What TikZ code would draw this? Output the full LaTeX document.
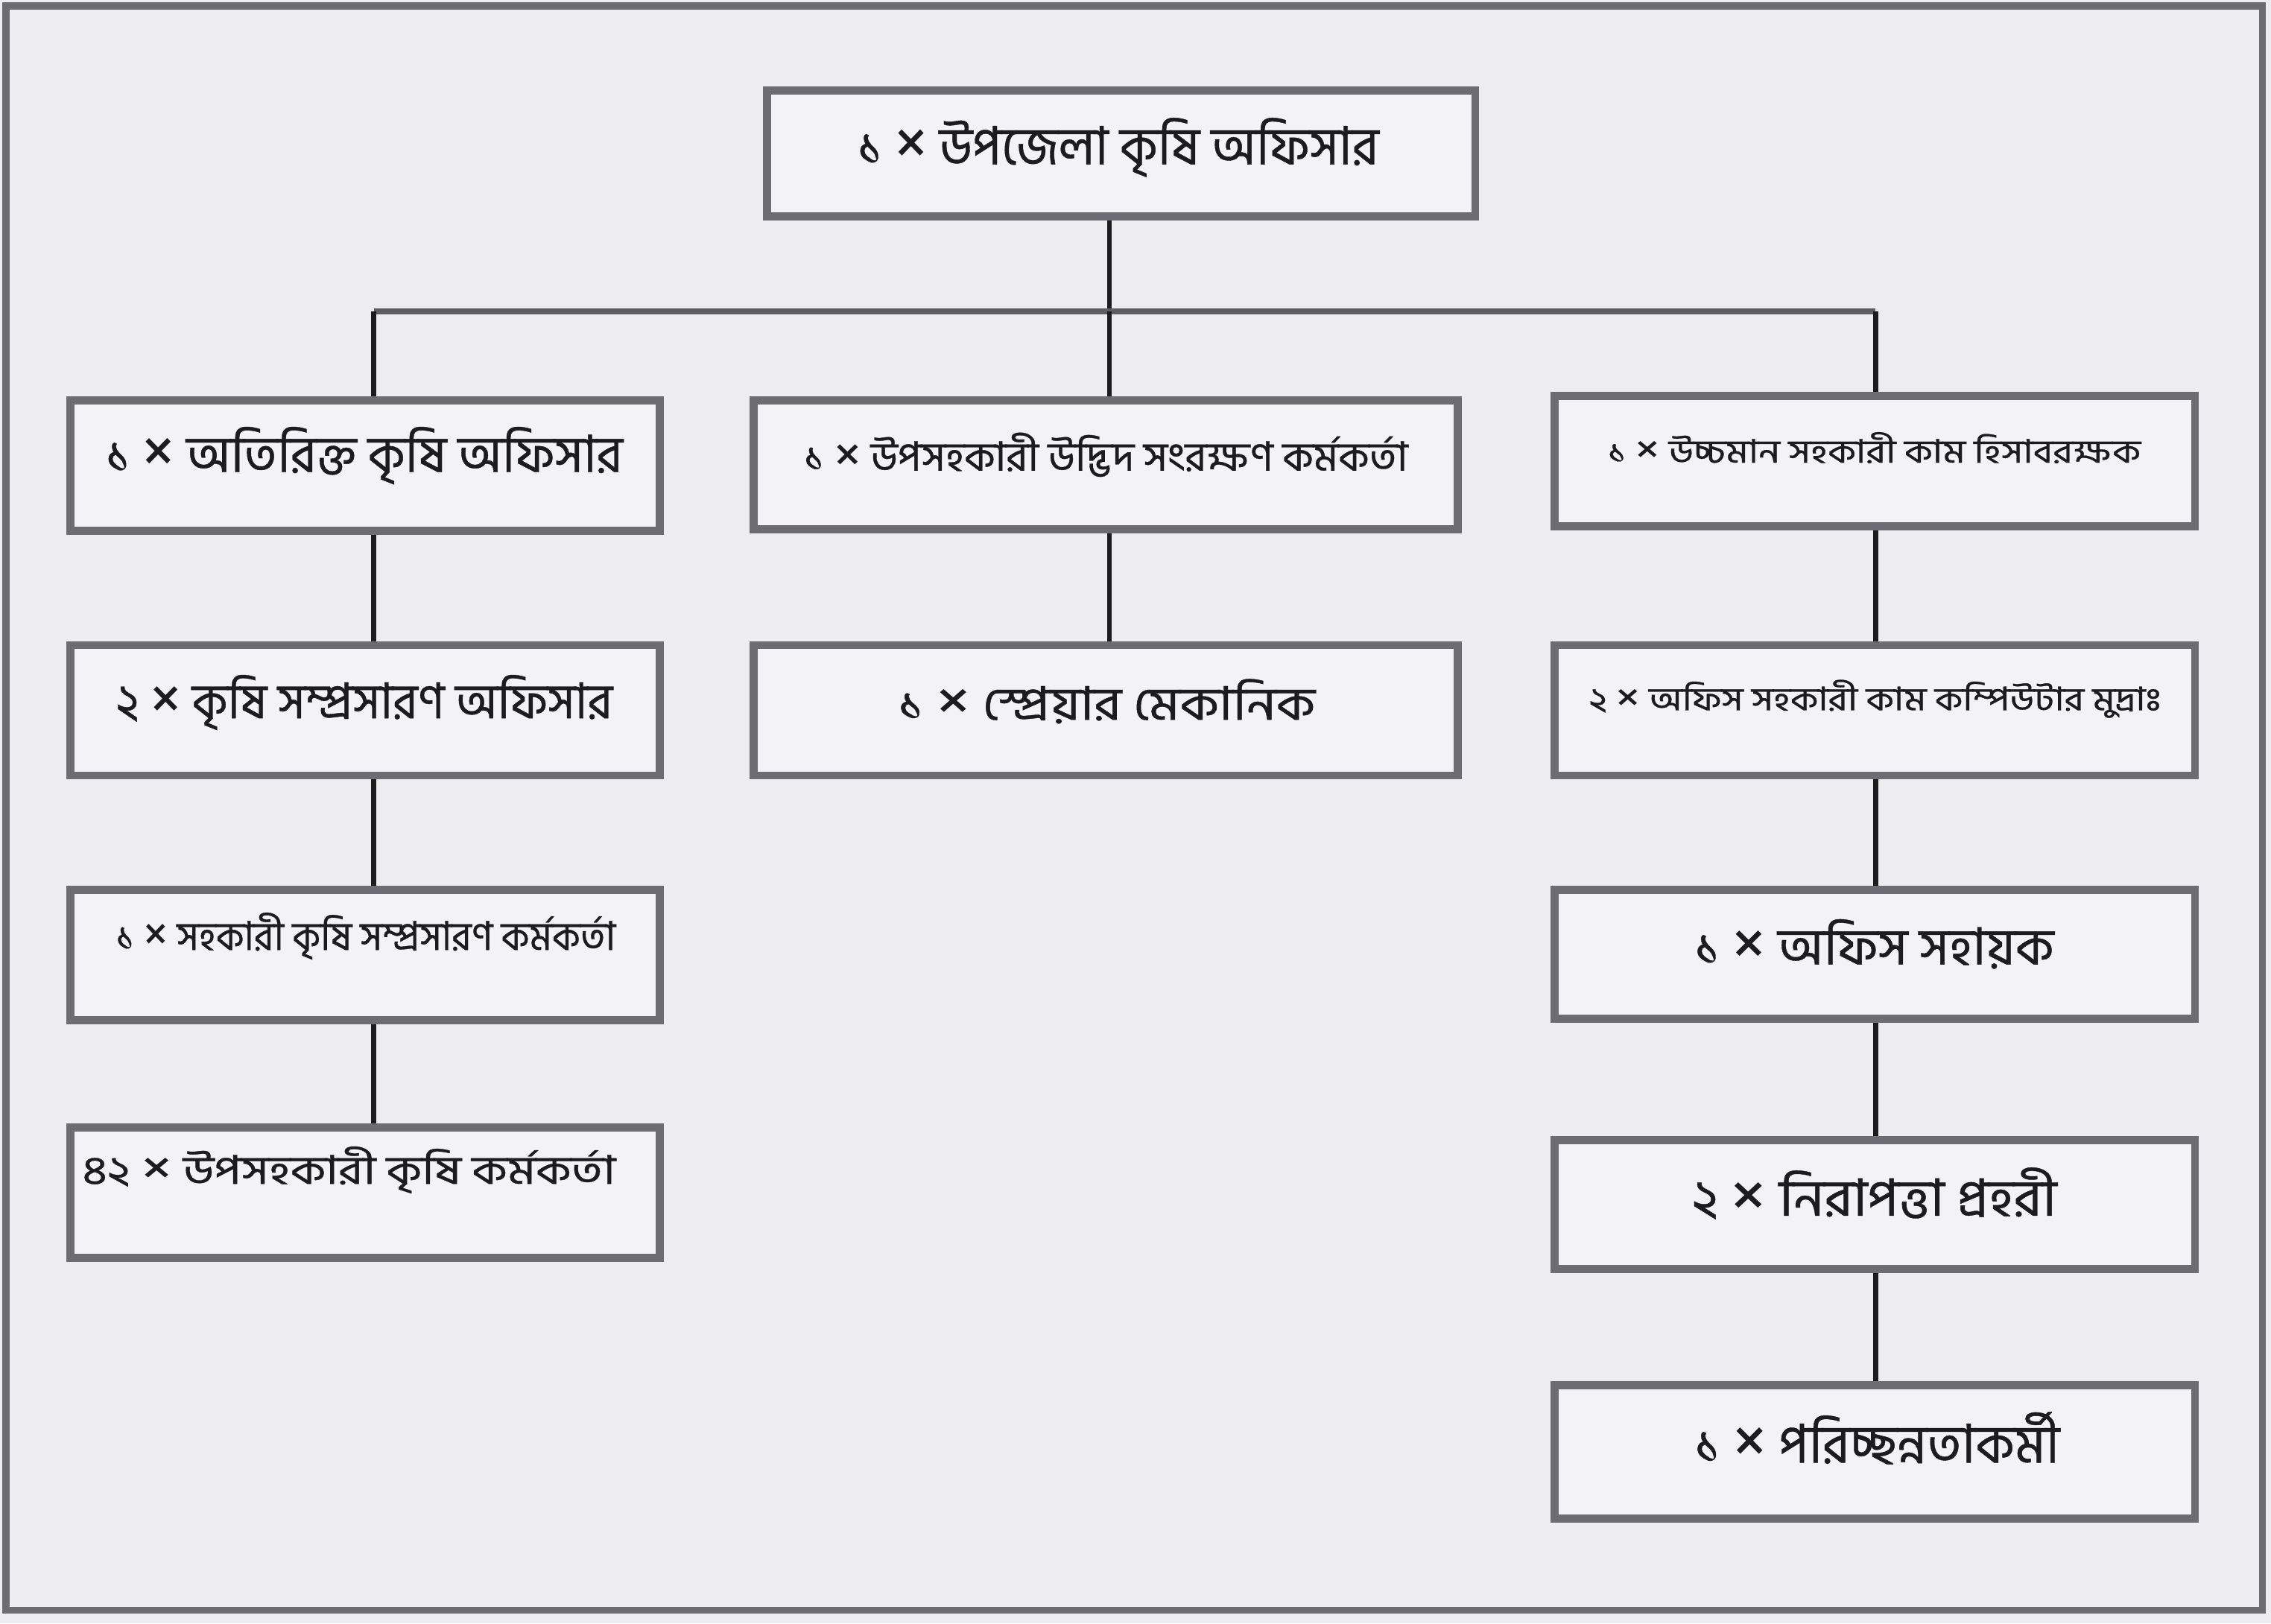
\documentclass[tikz,border=0pt]{standalone}
\usepackage{fontspec}
\usepackage{graphicx}
\newfontfamily\bn[Script=Bengali,FakeBold=0.6]{Hind Siliguri}
\newfontfamily\bnx{Hind Siliguri}
\definecolor{paper}{RGB}{236,236,241}
\definecolor{boxfill}{RGB}{243,243,247}
\definecolor{framegray}{RGB}{108,108,114}
\definecolor{ink}{RGB}{28,28,30}
\tikzset{
  orgbox/.style n args={2}{draw=framegray, line width=5.5pt, fill=boxfill, inner sep=0pt,
    minimum width=#1, minimum height=#2},
  lbl/.style={inner sep=0pt, anchor=base, text=ink},
  conn/.style={draw=ink, line width=3.5pt},
  bus/.style={draw=framegray!85!black, line width=4.5pt},
}
\newcommand{\X}{\raisebox{-0.06em}{\scalebox{1.35}{\bnx ×}}}
\newcommand{\fitt}[3]{{\bn\fontsize{#2}{#2}\selectfont\resizebox{#1}{\height}{#3}}}
\begin{document}
\begin{tikzpicture}[x=1pt,y=-1pt]
\useasboundingbox (0,0) rectangle (1568,1121);
\fill[paper] (0,0) rectangle (1568,1121);
\draw[framegray, line width=5pt] (4,4) rectangle (1562,1112);

% boxes
\node[orgbox={489pt}{87pt}] (top) at (774,106) {};
\node[orgbox={407pt}{90pt}] (L1) at (252,321.5) {};
\node[orgbox={486pt}{89pt}] (M1) at (763.5,321) {};
\node[orgbox={442pt}{90pt}] (R1) at (1294.5,318.5) {};
\node[orgbox={407pt}{90pt}] (L2) at (252,490.5) {};
\node[orgbox={486pt}{90pt}] (M2) at (763.5,490.5) {};
\node[orgbox={442pt}{90pt}] (R2) at (1294.5,490.5) {};
\node[orgbox={407pt}{90pt}] (L3) at (252,659.5) {};
\node[orgbox={442pt}{89pt}] (R3) at (1294.5,659) {};
\node[orgbox={407pt}{90pt}] (L4) at (252,823.5) {};
\node[orgbox={442pt}{89pt}] (R4) at (1294.5,832) {};
\node[orgbox={442pt}{92pt}] (R5) at (1294.5,1002.5) {};

% bus coordinates
\coordinate (busT) at (766,215);
\coordinate (busL) at (258,215);
\coordinate (busR) at (1295,215);

\draw[conn] (busT |- top.south) -- (busT);
\draw[bus] (busL) -- (busR);
\draw[conn] (busL) -- (busL |- L1.north);
\draw[conn] (busT) -- (busT |- M1.north);
\draw[conn] (busR) -- (busR |- R1.north);
\draw[conn] (busL |- L1.south) -- (busL |- L2.north);
\draw[conn] (busL |- L2.south) -- (busL |- L3.north);
\draw[conn] (busL |- L3.south) -- (busL |- L4.north);
\draw[conn] (busT |- M1.south) -- (busT |- M2.north);
\draw[conn] (busR |- R1.south) -- (busR |- R2.north);
\draw[conn] (busR |- R2.south) -- (busR |- R3.north);
\draw[conn] (busR |- R3.south) -- (busR |- R4.north);
\draw[conn] (busR |- R4.south) -- (busR |- R5.north);

% labels
\node[lbl] (tTop) at (772,113.5) {\fitt{360pt}{36.5pt}{১ \X{} উপজেলা কৃষি অফিসার}};
\node[lbl] (tL1) at (251.5,326) {\fitt{357pt}{35.5pt}{১ \X{} অতিরিক্ত কৃষি অফিসার}};
\node[lbl] (tM1) at (763.5,325) {\fitt{417pt}{28pt}{১ \X{} উপসহকারী উদ্ভিদ সংরক্ষণ কর্মকর্তা}};
\node[lbl] (tR1) at (1294,319.5) {\fitt{368pt}{22.5pt}{১ \X{} উচ্চমান সহকারী কাম হিসাবরক্ষক}};
\node[lbl] (tL2) at (251.5,496) {\fitt{343pt}{34pt}{২ \X{} কৃষি সম্প্রসারণ অফিসার}};
\node[lbl] (tM2) at (764,497) {\fitt{288pt}{32pt}{১ \X{} স্প্রেয়ার মেকানিক}};
\node[lbl] (tR2) at (1294.5,490.5) {\fitt{395pt}{22.5pt}{২ \X{} অফিস সহকারী কাম কম্পিউটার মুদ্রাঃ}};
\node[lbl] (tL3) at (252.5,656) {\fitt{345pt}{27.5pt}{১ \X{} সহকারী কৃষি সম্প্রসারণ কর্মকর্তা}};
\node[lbl] (tR3) at (1294,666) {\fitt{248pt}{35.5pt}{১ \X{} অফিস সহায়ক}};
\node[lbl] (tL4) at (241,817.5) {\fitt{368pt}{27.5pt}{৪২ \X{} উপসহকারী কৃষি কর্মকর্তা}};
\node[lbl] (tR4) at (1294,839.5) {\fitt{252pt}{35.5pt}{২ \X{} নিরাপত্তা প্রহরী}};
\node[lbl] (tR5) at (1296,1010) {\fitt{252pt}{37pt}{১ \X{} পরিচ্ছন্নতাকর্মী}};
\end{tikzpicture}
\end{document}
